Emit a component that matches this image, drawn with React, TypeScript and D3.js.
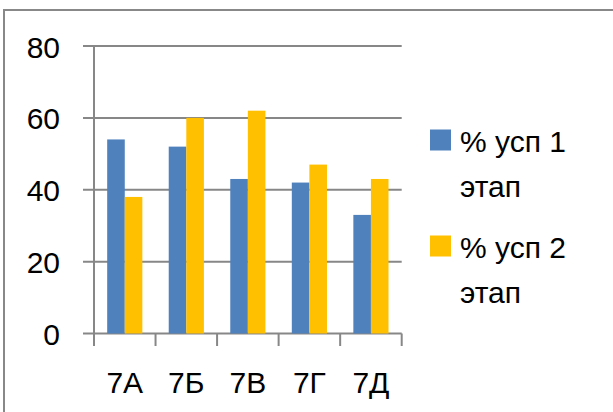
import React from "react";
import * as d3 from "d3";

const categories = ["7А", "7Б", "7В", "7Г", "7Д"];
const seriesNames = ["% усп 1", "% усп 2"];
const series1 = [54, 52, 43, 42, 33];
const series2 = [38, 60, 62, 47, 43];
const yTicks = [0, 20, 40, 60, 80];
const colors = ["#4F81BD", "#FFC000"];

const W = 613;
const H = 412;
const FONT = "'Liberation Sans', Arial, sans-serif";

export default function App() {
  const x = d3.scaleBand<string>().domain(categories).range([94, 401.7]).padding(0);
  const y = d3.scaleLinear().domain([0, 80]).range([333.5, 46]);
  const bw = x.bandwidth();
  const barW = bw / 3.5;
  const groupOffset = barW * 0.75;
  const data = [series1, series2];
  const gridColor = "#878787";

  const boundaries = categories.map((c) => x(c) as number).concat([x.range()[1]]);

  return (
    <svg
      width={W}
      height={H}
      style={{ position: "absolute", left: 0, top: 0, background: "#fff" }}
      fontFamily={FONT}
    >
      <rect x={0} y={0} width={W} height={H} fill="#fff" />
      <rect x={4} y={10} width={W + 20} height={H + 20} fill="none" stroke="#888" strokeWidth={2} />
      {/* gridlines */}
      {yTicks.map((t) => (
        <line key={"g" + t} x1={83} x2={401.7} y1={y(t)} y2={y(t)} stroke={gridColor} strokeWidth={2} />
      ))}
      {/* y axis */}
      <line x1={94} x2={94} y1={y(80)} y2={346} stroke={gridColor} strokeWidth={2} />
      {/* x ticks */}
      {boundaries.map((b, i) => (
        <line key={"xt" + i} x1={b} x2={b} y1={y(0)} y2={346} stroke={gridColor} strokeWidth={2} />
      ))}
      {/* bars */}
      {categories.map((c, i) =>
        data.map((s, j) => (
          <rect
            key={c + j}
            x={(x(c) as number) + groupOffset + j * barW}
            y={y(s[i])}
            width={barW}
            height={y(0) - y(s[i])}
            fill={colors[j]}
          />
        ))
      )}
      {/* y labels */}
      {yTicks.map((t) => (
        <text key={"yl" + t} x={60} y={y(t) + 11.5} textAnchor="end" fontSize={30} fill="#000">
          {t}
        </text>
      ))}
      {/* x labels */}
      {categories.map((c) => (
        <text
          key={"xl" + c}
          x={(x(c) as number) + bw / 2}
          y={393}
          textAnchor="middle"
          fontSize={30}
          fill="#000"
        >
          {c}
        </text>
      ))}
      {/* legend */}
      {seriesNames.map((n, j) => (
        <g key={"lg" + j} transform={`translate(0, ${j * 106})`}>
          <rect x={430} y={129.5} width={21} height={21} fill={colors[j]} />
          <text x={460} y={152} fontSize={30} fill="#000">
            {n}
          </text>
          <text x={460} y={197} fontSize={30} fill="#000">
            этап
          </text>
        </g>
      ))}
    </svg>
  );
}
